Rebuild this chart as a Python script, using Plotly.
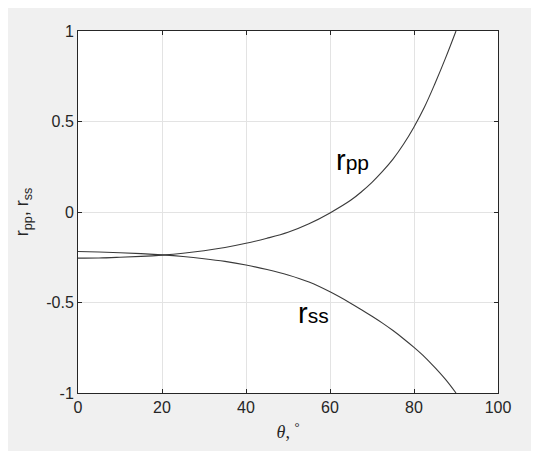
import plotly.graph_objects as go

theta = [0, 5, 10, 15, 20, 25, 30, 35, 40, 45, 50, 55, 60, 65, 67.5, 70, 72.5, 75, 77.5, 80, 82.5, 85, 87.5, 90]
rpp = [-0.255, -0.254, -0.250, -0.245, -0.238, -0.228, -0.214, -0.196, -0.173, -0.145, -0.112,
       -0.065, -0.005, 0.066, 0.112, 0.164, 0.224, 0.292, 0.374, 0.47, 0.58, 0.71, 0.85, 1.0]
rss = [-0.218, -0.221, -0.225, -0.230, -0.237, -0.246, -0.258, -0.273, -0.293, -0.318, -0.348,
       -0.387, -0.441, -0.505, -0.540, -0.576, -0.614, -0.655, -0.70, -0.748, -0.80, -0.86, -0.925, -1.0]

x_ticks = [0, 20, 40, 60, 80, 100]
y_ticks = [-1, -0.5, 0, 0.5, 1]

fig = go.Figure()
for ys in (rpp, rss):
    fig.add_trace(go.Scatter(x=theta, y=ys, mode="lines",
                             line=dict(color="#3a3a3a", width=1.1, shape="spline", smoothing=1.0),
                             showlegend=False, hoverinfo="skip"))

axis_common = dict(showline=True, linecolor="#262626", linewidth=1, mirror="ticks",
                   ticks="inside", ticklen=4, tickcolor="#262626", showgrid=True,
                   gridcolor="#e3e3e3", gridwidth=1, zeroline=False, automargin=False,
                   tickfont=dict(family="Liberation Sans, Arial", size=16, color="#262626"))

fig.update_xaxes(range=[0, 100], tickvals=x_ticks, ticktext=[str(v) for v in x_ticks], **axis_common,
                 title=dict(text="<i>θ</i>, <sup>°</sup>",
                            font=dict(family="Liberation Serif, Times New Roman", size=18, color="#262626"),
                            standoff=10))
fig.update_yaxes(range=[-1, 1], tickvals=y_ticks, ticktext=["-1", "-0.5", "0", "0.5", "1"], **axis_common,
                 title=dict(text="r<sub>pp</sub>, r<sub>ss</sub>",
                            font=dict(family="Liberation Sans, Arial", size=18, color="#262626"),
                            standoff=12))

fig.add_annotation(x=65.3, y=0.29, text="r<span style='font-size:21px'>pp</span>", showarrow=False,
                   font=dict(family="Liberation Sans, Arial", size=29, color="black"))
fig.add_annotation(x=56.0, y=-0.56, text="r<span style='font-size:21px'>ss</span>", showarrow=False,
                   font=dict(family="Liberation Sans, Arial", size=29, color="black"))

fig.update_layout(width=531, height=443, margin=dict(l=70, r=41, t=23, b=58),
                  paper_bgcolor="#f0f0f0", plot_bgcolor="white")

fig.write_html("out.html")
